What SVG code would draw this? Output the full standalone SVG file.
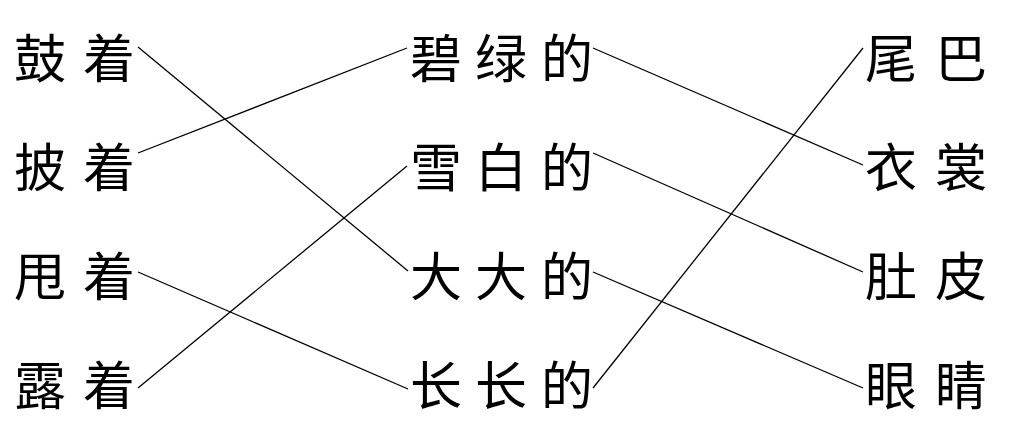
<svg xmlns="http://www.w3.org/2000/svg" width="1025" height="447" viewBox="0 0 1025 447">
<style>
.t{font-family:"Noto Sans CJK SC","Noto Sans CJK TC",sans-serif;font-size:52px;fill:#000}
.c line{stroke:#000;stroke-width:1.3;fill:none}
</style>
<rect width="1025" height="447" fill="#fff"/>
<g id="left">
<g id="n-guzhe"><text class="t" x="14 83" y="78">鼓着</text></g>
<g id="n-pizhe"><text class="t" x="14 83" y="187">披着</text></g>
<g id="n-shuaizhe"><text class="t" x="14 83" y="296">甩着</text></g>
<g id="n-luzhe"><text class="t" x="14 83" y="405">露着</text></g>
</g>
<g id="middle">
<g id="n-bilvde"><text class="t" x="410 475 541" y="78">碧绿的</text></g>
<g id="n-xuebaide"><text class="t" x="410 475 541" y="187">雪白的</text></g>
<g id="n-dadade"><text class="t" x="410 475 541" y="296">大大的</text></g>
<g id="n-changchangde"><text class="t" x="410 475 541" y="405">长长的</text></g>
</g>
<g id="right">
<g id="n-weiba"><text class="t" x="865 935" y="78">尾巴</text></g>
<g id="n-yishang"><text class="t" x="865 935" y="187">衣裳</text></g>
<g id="n-dupi"><text class="t" x="865 935" y="296">肚皮</text></g>
<g id="n-yanjing"><text class="t" x="865 935" y="405">眼睛</text></g>
</g>
<g id="connectors" class="c">
<line x1="138" y1="47" x2="408" y2="271"/>
<line x1="138" y1="153" x2="407" y2="48"/>
<line x1="138" y1="272" x2="408" y2="389"/>
<line x1="138" y1="388" x2="407" y2="166"/>
<line x1="593" y1="48" x2="863" y2="165"/>
<line x1="593" y1="153" x2="863" y2="272"/>
<line x1="593" y1="272" x2="863" y2="388"/>
<line x1="593" y1="388" x2="863" y2="48"/>
</g>
</svg>
